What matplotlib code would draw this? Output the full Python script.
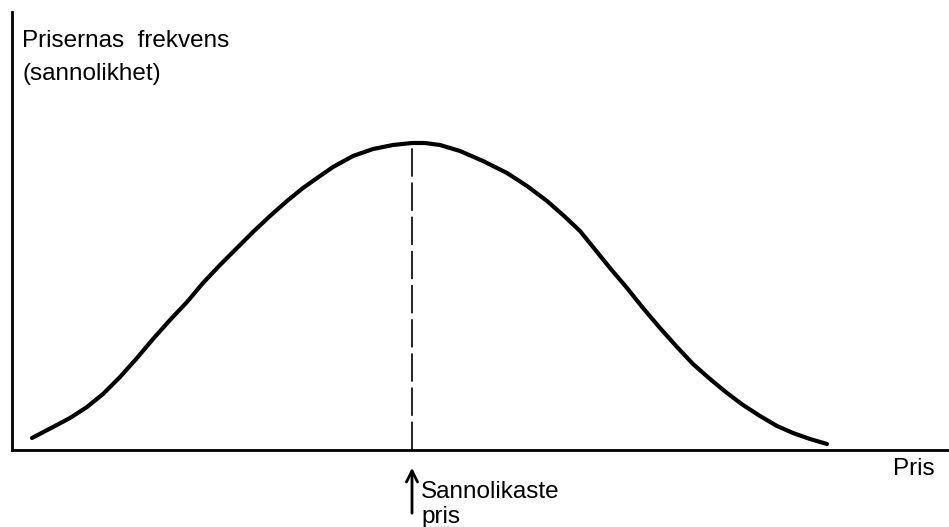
import matplotlib
matplotlib.use("Agg")
import matplotlib.pyplot as plt

# curve (arbitrary units: price, frequency)
pris = [20, 41, 58, 75, 91, 108, 125, 141, 158, 175,
        191, 208, 225, 241, 258, 275, 291, 308, 321, 341,
        361, 381, 400, 413, 428, 448, 471, 495, 515, 535,
        551, 568, 581, 598, 615, 631, 648, 665, 681, 698,
        715, 731, 748, 765, 781, 798, 815]
frekvens = [12, 23, 32, 43, 56, 73, 92, 111, 130, 148,
            167, 185, 202, 218, 234, 249, 262, 274, 283, 294,
            301, 305, 307, 307, 305, 299, 289, 277, 264, 249,
            235, 219, 203, 182, 162, 142, 122, 103, 86, 71,
            57, 45, 34, 24, 17, 11, 6]
mode_pris = 400
mode_frekvens = 307

plt.rcParams['font.family'] = ['Liberation Sans', 'DejaVu Sans']
fs = 17.5

fig = plt.figure(figsize=(9.49, 5.27), dpi=100)
ax = fig.add_axes([12 / 949, 77 / 527, 937 / 949, 438 / 527])
ax.set_xlim(0, 937)
ax.set_ylim(0, 438)

ax.plot(pris, frekvens, color="black", lw=3, solid_capstyle="round",
        solid_joinstyle="round")
ax.plot([mode_pris, mode_pris], [0, mode_frekvens], color="black", lw=1.2,
        dashes=(17, 3.5))

for side in ["top", "right"]:
    ax.spines[side].set_visible(False)
ax.spines["left"].set_linewidth(2)
ax.spines["bottom"].set_linewidth(2)
ax.set_xticks([])
ax.set_yticks([])

ax.text(10, 403, "Prisernas  frekvens", fontsize=fs, va="baseline")
ax.text(10, 370, "(sannolikhet)", fontsize=fs, va="baseline")
ax.text(881, -25, "Pris", fontsize=fs, va="baseline", clip_on=False)
ax.text(409, -48, "Sannolikaste", fontsize=fs, va="baseline", clip_on=False)
ax.text(409, -73, "pris", fontsize=fs, va="baseline", clip_on=False)

ax.annotate("", xy=(mode_pris, -15), xytext=(mode_pris, -66),
            arrowprops=dict(arrowstyle="->", lw=2, color="black",
                            mutation_scale=20),
            annotation_clip=False)

fig.savefig("out.png", dpi=100)
